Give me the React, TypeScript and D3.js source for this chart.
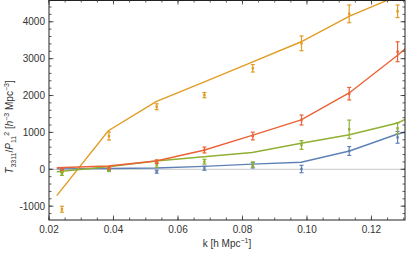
import React from "react";
import * as d3 from "d3";

// k values of the model curves and of the measured points
const kLine = [0.0224, 0.0384, 0.0532, 0.068, 0.083, 0.0982, 0.1132, 0.1281, 0.143];
const kData = [0.024, 0.0386, 0.0534, 0.0682, 0.0832, 0.0983, 0.1131, 0.1281];

// model curves
const blueLine = [10, 20, 35, 80, 140, 190, 496, 957, 1270];
const orangeLine = [-715, 1046, 1832, 2366, 2908, 3458, 4154, 4700, 5300];
const greenLine = [-65, 70, 225, 340, 455, 705, 935, 1255, 1860];
const redLine = [43, 90, 225, 515, 920, 1340, 2076, 3090, 4200];

// measurements and errors
const blueData = [5, -10, -65, 27, 110, 8, 496, 867];
const blueErr = [20, 30, 40, 55, 75, 100, 120, 160];
const orangeData = [-1084, 902, 1696, 2011, 2737, 3415, 4214, 4284];
const orangeErr = [80, 110, 80, 70, 100, 200, 240, 170];
const greenData = [-127, -20, 116, 206, 130, 659, 1084, 1111];
const greenErr = [40, 40, 60, 65, 70, 117, 250, 150];
const redData = [0, 30, 206, 523, 902, 1336, 2049, 3187];
const redErr = [30, 30, 50, 80, 105, 135, 170, 270];

const xTicks = [0.02, 0.04, 0.06, 0.08, 0.1, 0.12];
const yTicks = [-1000, 0, 1000, 2000, 3000, 4000];

const W = 407;
const H = 253;
const left = 49;
const right = 405;
const top = 0;
const bottom = 220;

const series = [
  { line: blueLine, data: blueData, err: blueErr, color: "#5E81B5" },
  { line: orangeLine, data: orangeData, err: orangeErr, color: "#E19C24" },
  { line: greenLine, data: greenData, err: greenErr, color: "#8FB032" },
  { line: redLine, data: redData, err: redErr, color: "#EB6235" },
];

const font = "'Liberation Sans', Arial, sans-serif";

export default function App() {
  const x = d3.scaleLinear().domain([0.02, 0.1304]).range([left, right]);
  const y = d3.scaleLinear().domain([-1375, 4590]).range([bottom, top]);

  const line = d3
    .line<number>()
    .x((_, i) => x(kLine[i]))
    .y((d) => y(d));

  const xMinor = d3.range(0.02, 0.1305, 0.005);
  const yMinor = d3.range(-1200, 4600, 200);

  return (
    <svg
      width={W}
      height={H}
      style={{ position: "absolute", left: 0, top: 0, background: "#fff" }}
      fontFamily={font}
    >
      <defs>
        <clipPath id="plot">
          <rect x={left} y={top} width={right - left} height={bottom - top} />
        </clipPath>
      </defs>

      {/* zero line */}
      <line x1={left} x2={right} y1={y(0)} y2={y(0)} stroke="#c8c8c8" strokeWidth={1} />

      <g clipPath="url(#plot)">
        {series.map((s, si) => (
          <path key={"l" + si} d={line(s.line) || ""} fill="none" stroke={s.color} strokeWidth={1.4} />
        ))}
        {series.map((s, si) => (
          <g key={"e" + si} stroke={s.color} strokeWidth={1.2} fill={s.color}>
            {s.data.map((v, i) => {
              const cx = x(kData[i]);
              const y0 = y(v - s.err[i]);
              const y1 = y(v + s.err[i]);
              return (
                <g key={i}>
                  <line x1={cx} x2={cx} y1={y0} y2={y1} />
                  <line x1={cx - 2} x2={cx + 2} y1={y0} y2={y0} />
                  <line x1={cx - 2} x2={cx + 2} y1={y1} y2={y1} />
                  <rect x={cx - 1.2} y={y(v) - 1.2} width={2.4} height={2.4} stroke="none" />
                </g>
              );
            })}
          </g>
        ))}
      </g>

      {/* frame */}
      <rect x={left} y={top + 0.5} width={right - left} height={bottom - top - 0.5} fill="none" stroke="#222" strokeWidth={1} />

      {/* ticks */}
      <g stroke="#333" strokeWidth={0.8}>
        {xMinor.map((t, i) => (
          <g key={"xm" + i}>
            <line x1={x(t)} x2={x(t)} y1={bottom} y2={bottom - 2.5} />
            <line x1={x(t)} x2={x(t)} y1={top} y2={top + 2.5} />
          </g>
        ))}
        {xTicks.map((t, i) => (
          <g key={"xM" + i}>
            <line x1={x(t)} x2={x(t)} y1={bottom} y2={bottom - 4.5} />
            <line x1={x(t)} x2={x(t)} y1={top} y2={top + 4.5} />
          </g>
        ))}
        {yMinor.map((t, i) => (
          <g key={"ym" + i}>
            <line x1={left} x2={left + 2.5} y1={y(t)} y2={y(t)} />
            <line x1={right} x2={right - 2.5} y1={y(t)} y2={y(t)} />
          </g>
        ))}
        {yTicks.map((t, i) => (
          <g key={"yM" + i}>
            <line x1={left} x2={left + 4.5} y1={y(t)} y2={y(t)} />
            <line x1={right} x2={right - 4.5} y1={y(t)} y2={y(t)} />
          </g>
        ))}
      </g>

      {/* tick labels */}
      <g fontSize={10} fill="#333">
        {xTicks.map((t, i) => (
          <text key={"xl" + i} x={x(t)} y={233} textAnchor="middle">
            {d3.format(".2f")(t)}
          </text>
        ))}
        {yTicks.map((t, i) => (
          <text key={"yl" + i} x={left - 4} y={y(t) + 3.5} textAnchor="end">
            {t < 0 ? "-" + Math.abs(t) : String(t)}
          </text>
        ))}
      </g>

      {/* axis labels */}
      <text x={(left + right) / 2} y={247} textAnchor="middle" fontSize={10} fill="#333">
        k [h Mpc<tspan dy={-4} fontSize={7}>−1</tspan>
        <tspan dy={4}>]</tspan>
      </text>
      <text transform={`translate(13,127) rotate(-90)`} textAnchor="middle" fontSize={10} fill="#333">
        <tspan fontStyle="italic">T</tspan>
        <tspan dy={2.5} fontSize={7}>3311</tspan>
        <tspan dy={-2.5}>/</tspan>
        <tspan fontStyle="italic">P</tspan>
        <tspan dy={2.5} fontSize={7}>11</tspan>
        <tspan dy={-6.5} fontSize={7}>2</tspan>
        <tspan dy={4}> [</tspan>
        <tspan fontStyle="italic">h</tspan>
        <tspan dy={-4} fontSize={7}>−3</tspan>
        <tspan dy={4}> Mpc</tspan>
        <tspan dy={-4} fontSize={7}>−3</tspan>
        <tspan dy={4}>]</tspan>
      </text>
    </svg>
  );
}
